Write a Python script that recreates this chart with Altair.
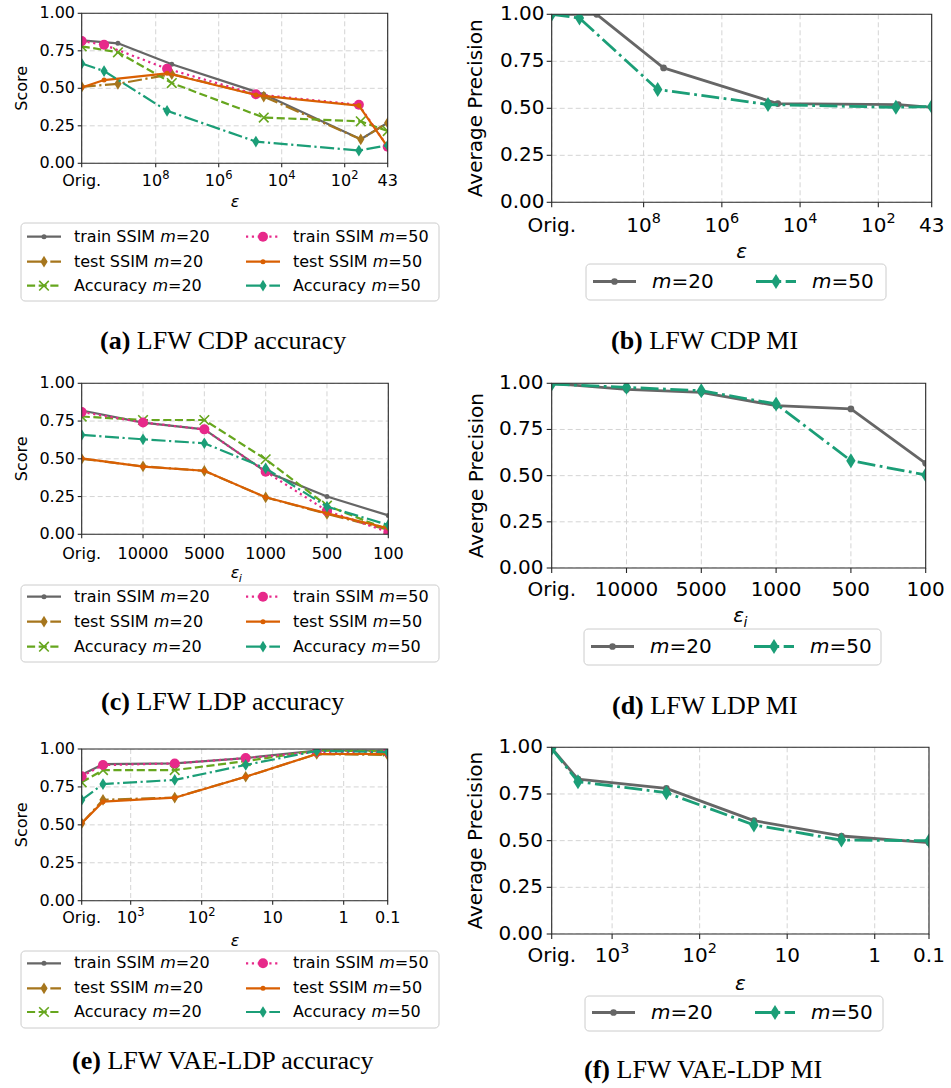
import altair as alt
import pandas as pd

FIG_W, FIG_H = 951, 1088
SANS = "DejaVu Sans"
SERIF = "Liberation Serif"

# ---------------- values ----------------
score_ticks = [0.0, 0.25, 0.5, 0.75, 1.0]
score_tick_labels = ["0.00", "0.25", "0.50", "0.75", "1.00"]

# CDP: x positions are log10(eps); the left-most slot is the original model
cdp_ticks = [10.35, 8.0, 6.0, 4.0, 2.0, 0.635]
cdp_tick_labels = ["Orig.", "10^8", "10^6", "10^4", "10^2", "43"]
cdp_pos_m20 = [10.35, 9.2, 7.49, 4.57, 1.49, 0.635]
cdp_pos_m50 = [10.35, 9.64, 7.64, 4.82, 1.55, 0.635]
cdp_train_m20 = [0.82, 0.80, 0.66, 0.46, 0.16, 0.27]
cdp_test_m20 = [0.51, 0.53, 0.595, 0.445, 0.16, 0.27]
cdp_acc_m20 = [0.78, 0.74, 0.535, 0.305, 0.28, 0.215]
cdp_train_m50 = [0.815, 0.79, 0.63, 0.46, 0.39, 0.11]
cdp_test_m50 = [0.505, 0.555, 0.60, 0.455, 0.385, 0.11]
cdp_acc_m50 = [0.665, 0.615, 0.35, 0.145, 0.085, 0.12]
cdp_ap_m20 = [1.0, 1.0, 0.715, 0.525, 0.52, 0.505]
cdp_ap_m50 = [1.0, 0.98, 0.60, 0.52, 0.505, 0.51]

# LDP: per-instance eps_i, evenly spaced slots
ldp_ticks = [0, 1, 2, 3, 4, 5]
ldp_tick_labels = ["Orig.", "10000", "5000", "1000", "500", "100"]
ldp_pos = [0, 1, 2, 3, 4, 5]
ldp_train_m20 = [0.82, 0.74, 0.695, 0.415, 0.25, 0.125]
ldp_test_m20 = [0.50, 0.45, 0.42, 0.245, 0.135, 0.03]
ldp_acc_m20 = [0.78, 0.757, 0.757, 0.497, 0.19, 0.03]
ldp_train_m50 = [0.81, 0.74, 0.695, 0.415, 0.155, 0.015]
ldp_test_m50 = [0.503, 0.448, 0.421, 0.245, 0.139, 0.04]
ldp_acc_m50 = [0.658, 0.629, 0.603, 0.437, 0.183, 0.062]
ldp_ap_m20 = [1.0, 0.967, 0.951, 0.879, 0.861, 0.567]
ldp_ap_m50 = [0.996, 0.978, 0.96, 0.888, 0.581, 0.504]

# VAE-LDP: x positions are log10(eps)
vae_ticks = [3.69, 3.0, 2.0, 1.0, 0.0, -0.62]
vae_tick_labels = ["Orig.", "10^3", "10^2", "10", "1", "0.1"]
vae_pos = [3.69, 3.39, 2.38, 1.38, 0.38, -0.62]
vae_train_m20 = [0.83, 0.90, 0.905, 0.94, 0.99, 0.99]
vae_test_m20 = [0.51, 0.665, 0.68, 0.817, 0.967, 0.96]
vae_acc_m20 = [0.78, 0.861, 0.861, 0.92, 0.99, 0.985]
vae_train_m50 = [0.82, 0.894, 0.905, 0.94, 0.98, 0.98]
vae_test_m50 = [0.51, 0.653, 0.679, 0.817, 0.967, 0.967]
vae_acc_m50 = [0.664, 0.769, 0.796, 0.895, 0.987, 0.98]
vae_ap_m20 = [0.995, 0.829, 0.78, 0.607, 0.525, 0.489]
vae_ap_m50 = [0.993, 0.816, 0.757, 0.584, 0.503, 0.50]

# ---------------- styles ----------------
SERIES_STYLE = {
    "train SSIM m=20": ("#666666", "solid", "dot"),
    "test SSIM m=20": ("#a6761d", "dashdot", "thin_diamond"),
    "Accuracy m=20": ("#66a61e", "dashed", "x"),
    "train SSIM m=50": ("#e7298a", "dotted", "circle"),
    "test SSIM m=50": ("#d95f02", "solid", "dot"),
    "Accuracy m=50": ("#1b9e77", "dashdot", "thin_diamond"),
    "m=20": ("#666666", "solid", "dot"),
    "m=50": ("#1b9e77", "dashdot", "thin_diamond"),
}
DASH_UNITS = {"solid": None, "dashed": [3.7, 1.6], "dashdot": [6.4, 1.6, 1.0, 1.6], "dotted": [1.0, 1.65]}
STY = {
    "small": dict(fs=16, lw=2.2, dot=25, circle=100, diamond=137, cross=92, cross_w=1.6, tick=4),
    "large": dict(fs=20, lw=2.8, dot=45, circle=150, diamond=225, cross=144, cross_w=2.0, tick=5),
}
THIN_DIAMOND = "M0,-1L0.62,0L0,1L-0.62,0Z"
X_PATH = "M-1,-1L1,1M-1,1L1,-1"
GRID = dict(color="#d4d4d4", strokeWidth=1, strokeDash=[5, 3])
AXC = "#262626"
DIGIT = 0.636   # DejaVu Sans digit advance, in em
SUP = 0.72      # exponent size relative to the label size

ONE = pd.DataFrame({"k": [0]})


def line_mark(base, color, dash, st):
    kw = dict(color=color, strokeWidth=st["lw"], strokeJoin="round")
    if DASH_UNITS[dash]:
        kw["strokeDash"] = [round(u * st["lw"], 2) for u in DASH_UNITS[dash]]
        kw["strokeCap"] = "butt"
    return base.mark_line(**kw)


def rule_mark(base, color, dash, st):
    kw = dict(color=color, strokeWidth=st["lw"])
    if DASH_UNITS[dash]:
        kw["strokeDash"] = [round(u * st["lw"], 2) for u in DASH_UNITS[dash]]
    return base.mark_rule(**kw)


def marker_mark(base, marker, color, st):
    if marker == "dot":
        return base.mark_point(shape="circle", filled=True, size=st["dot"], color=color, opacity=1, strokeWidth=0)
    if marker == "circle":
        return base.mark_point(shape="circle", filled=True, size=st["circle"], color=color, opacity=1, strokeWidth=0)
    if marker == "thin_diamond":
        return base.mark_point(shape=THIN_DIAMOND, filled=True, size=st["diamond"], color=color, opacity=1, strokeWidth=0)
    return base.mark_point(shape=X_PATH, filled=False, size=st["cross"], color=color, opacity=1,
                           strokeWidth=st["cross_w"])


def label(txt, x, y, fs, align="center", baseline="alphabetic", italic=False, angle=0, font=SANS, bold=False):
    kw = dict(font=font, fontSize=fs, align=align, baseline=baseline, color="black")
    if italic:
        kw["fontStyle"] = "italic"
    if bold:
        kw["fontWeight"] = "bold"
    if angle:
        kw["angle"] = angle
    return alt.Chart(ONE).mark_text(**kw).encode(x=alt.value(x), y=alt.value(y), text=alt.value(txt))


def panel(p):
    st = STY[p["size"]]
    fs = st["fs"]
    x0, x1, y0, y1 = p["x0"], p["x1"], p["y0"], p["y1"]
    xs = alt.Scale(domain=p["xdom"], range=[x0, x1], nice=False, zero=False)
    ys = alt.Scale(domain=[0, 1], range=[y1, y0], nice=False, zero=False)

    def X(f):
        return alt.X(f, type="quantitative", scale=xs, axis=None)

    def Y(f):
        return alt.Y(f, type="quantitative", scale=ys, axis=None)

    xt = pd.DataFrame({"v": p["xticks"], "label": p["xlabels"]})
    xt["base"] = xt["label"].str.split("^").str[0]
    xt["exp"] = xt["label"].apply(lambda s: s.split("^")[1] if "^" in s else "")
    yt = pd.DataFrame({"v": score_ticks, "label": score_tick_labels})
    out = [
        alt.Chart(xt).mark_rule(**GRID).encode(x=X("v"), y=alt.value(y0), y2=alt.value(y1)),
        alt.Chart(yt).mark_rule(**GRID).encode(y=Y("v"), x=alt.value(x0), x2=alt.value(x1)),
    ]
    for name, pos, vals in p["series"]:
        color, dash, marker = SERIES_STYLE[name]
        base = alt.Chart(pd.DataFrame({"pos": pos, "val": vals})).encode(x=X("pos"), y=Y("val"))
        out.append(line_mark(base, color, dash, st))
        out.append(marker_mark(base, marker, color, st))

    # white margin around the frame trims markers sitting on the edges
    m = 10
    trim = pd.DataFrame({
        "a": [x0 - m, x1, x0 - m, x0 - m],
        "b": [x0, x1 + m, x1 + m, x1 + m],
        "c": [y0 - m, y0 - m, y0 - m, y1],
        "d": [y1 + m, y1 + m, y0, y1 + m],
    })
    out.append(alt.Chart(trim).mark_rect(color="white").encode(
        x=alt.X("a:Q", scale=None, axis=None), x2="b:Q",
        y=alt.Y("c:Q", scale=None, axis=None), y2="d:Q"))

    out.append(alt.Chart(ONE).mark_rect(fillOpacity=0, stroke=AXC, strokeWidth=1.1).encode(
        x=alt.value(x0), x2=alt.value(x1), y=alt.value(y0), y2=alt.value(y1)))
    out.append(alt.Chart(xt).mark_rule(color=AXC, strokeWidth=1.1).encode(
        x=X("v"), y=alt.value(y1), y2=alt.value(y1 + st["tick"])))
    out.append(alt.Chart(yt).mark_rule(color=AXC, strokeWidth=1.1).encode(
        y=Y("v"), x=alt.value(x0 - st["tick"]), x2=alt.value(x0)))

    # x tick labels; powers of ten get a raised, smaller exponent
    plain = xt[xt["exp"] == ""]
    powers = xt[xt["exp"] != ""]
    txt = dict(font=SANS, fontSize=fs, baseline="alphabetic", color="black")
    out.append(alt.Chart(plain).mark_text(align="center", **txt).encode(
        x=X("v"), y=alt.value(p["xlab_y"]), text="base:N"))
    if len(powers):
        fe = SUP * fs
        total = 2 * DIGIT * fs + DIGIT * fe
        split = -total / 2 + 2 * DIGIT * fs
        out.append(alt.Chart(powers).mark_text(align="right", dx=split, **txt).encode(
            x=X("v"), y=alt.value(p["xlab_y"]), text="base:N"))
        out.append(alt.Chart(powers).mark_text(align="left", dx=split, dy=-0.45 * fs, font=SANS, fontSize=fe,
                                               baseline="alphabetic", color="black").encode(
            x=X("v"), y=alt.value(p["xlab_y"]), text="exp:N"))
    out.append(alt.Chart(yt).mark_text(font=SANS, fontSize=fs, align="right", baseline="middle",
                                       color="black").encode(y=Y("v"), x=alt.value(p["ylab_x"]), text="label:N"))
    out.append(label(p["ytitle"], p["ytitle_x"], (y0 + y1) / 2, fs, angle=270))
    if p.get("xsub"):
        out.append(label("ε", p["xtitle_x"], p["xtitle_y"], fs, align="right", italic=True))
        out.append(label("i", p["xtitle_x"] - 0.5, p["xtitle_y"] + 0.24 * fs, 0.7 * fs,
                         align="left", italic=True))
    else:
        out.append(label("ε", p["xtitle_x"], p["xtitle_y"], fs, italic=True))
    return out


def acc_series(pos20, pos50, tr20, te20, ac20, tr50, te50, ac50):
    return [("train SSIM m=20", pos20, tr20), ("test SSIM m=20", pos20, te20), ("Accuracy m=20", pos20, ac20),
            ("train SSIM m=50", pos50, tr50), ("test SSIM m=50", pos50, te50), ("Accuracy m=50", pos50, ac50)]


PANELS = [
    dict(size="small", x0=81.7, x1=387.7, y0=13.3, y1=163.3, xdom=[10.35, 0.635],
         xticks=cdp_ticks, xlabels=cdp_tick_labels, xlab_y=185.7, ylab_x=75,
         ytitle="Score", ytitle_x=27.3, xtitle_x=235, xtitle_y=207,
         series=acc_series(cdp_pos_m20, cdp_pos_m50, cdp_train_m20, cdp_test_m20, cdp_acc_m20,
                           cdp_train_m50, cdp_test_m50, cdp_acc_m50)),
    dict(size="large", x0=551.7, x1=931.7, y0=14.3, y1=202.3, xdom=[10.35, 0.635],
         xticks=cdp_ticks, xlabels=cdp_tick_labels, xlab_y=231.7, ylab_x=544.5,
         ytitle="Average Precision", ytitle_x=482, xtitle_x=741.7, xtitle_y=258.3,
         series=[("m=20", cdp_pos_m20, cdp_ap_m20), ("m=50", cdp_pos_m50, cdp_ap_m50)]),
    dict(size="small", x0=81.7, x1=388.3, y0=383.3, y1=534.3, xdom=[0, 5],
         xticks=ldp_ticks, xlabels=ldp_tick_labels, xlab_y=559, ylab_x=75,
         ytitle="Score", ytitle_x=27.3, xtitle_x=239.3, xtitle_y=578.3, xsub=True,
         series=acc_series(ldp_pos, ldp_pos, ldp_train_m20, ldp_test_m20, ldp_acc_m20,
                           ldp_train_m50, ldp_test_m50, ldp_acc_m50)),
    dict(size="large", x0=551.7, x1=925.7, y0=383.3, y1=568, xdom=[0, 5],
         xticks=ldp_ticks, xlabels=ldp_tick_labels, xlab_y=596, ylab_x=543.5,
         ytitle="Averge Precision", ytitle_x=482.5, xtitle_x=744, xtitle_y=622, xsub=True,
         series=[("m=20", ldp_pos, ldp_ap_m20), ("m=50", ldp_pos, ldp_ap_m50)]),
    dict(size="small", x0=81.7, x1=387.7, y0=749, y1=900.7, xdom=[3.69, -0.62],
         xticks=vae_ticks, xlabels=vae_tick_labels, xlab_y=923.3, ylab_x=75,
         ytitle="Score", ytitle_x=27.3, xtitle_x=235, xtitle_y=945.5,
         series=acc_series(vae_pos, vae_pos, vae_train_m20, vae_test_m20, vae_acc_m20,
                           vae_train_m50, vae_test_m50, vae_acc_m50)),
    dict(size="large", x0=551.7, x1=929, y0=747.3, y1=934, xdom=[3.69, -0.62],
         xticks=vae_ticks, xlabels=vae_tick_labels, xlab_y=962.3, ylab_x=543,
         ytitle="Average Precision", ytitle_x=482, xtitle_x=740.3, xtitle_y=990,
         series=[("m=20", vae_pos, vae_ap_m20), ("m=50", vae_pos, vae_ap_m50)]),
]

layers = []
for p in PANELS:
    layers += panel(p)

# ---------------- legends ----------------
WIDTHS = {"train SSIM ": 5.392, "test SSIM ": 4.984, "Accuracy ": 4.902}
M_WIDTH = 0.974
plain_rows = {"small": [], "large": []}
ital_rows = {"small": [], "large": []}


def legend_box(x0, y0, x1, y1):
    return alt.Chart(ONE).mark_rect(fill="white", fillOpacity=0.8, stroke="#cccccc", strokeWidth=1,
                                    cornerRadius=4).encode(
        x=alt.value(x0), x2=alt.value(x1), y=alt.value(y0), y2=alt.value(y1))


def legend_entry(name, lx0, lx1, ly, tx, size):
    st = STY[size]
    color, dash, marker = SERIES_STYLE[name]
    out = [
        rule_mark(alt.Chart(ONE), color, dash, st).encode(x=alt.value(lx0), x2=alt.value(lx1), y=alt.value(ly)),
        marker_mark(alt.Chart(ONE), marker, color, st).encode(x=alt.value((lx0 + lx1) / 2), y=alt.value(ly)),
    ]
    fs = st["fs"]
    prefix, rest = name.rsplit("m", 1)
    x = tx
    if prefix:
        plain_rows[size].append({"x": x, "y": ly, "t": prefix})
        x += WIDTHS[prefix] * fs
    ital_rows[size].append({"x": x, "y": ly, "t": "m"})
    plain_rows[size].append({"x": x + M_WIDTH * fs, "y": ly, "t": rest})
    return out


LEFT_LEGENDS = [
    ((21, 223, 439, 301), [236.7, 261.7, 285.7]),
    ((21, 585, 439, 662), [596.7, 621.7, 646.7]),
    ((21, 951, 439, 1028), [963.3, 988.3, 1012.0]),
]
COL_A = ["train SSIM m=20", "test SSIM m=20", "Accuracy m=20"]
COL_B = ["train SSIM m=50", "test SSIM m=50", "Accuracy m=50"]
for (bx0, by0, bx1, by1), rows in LEFT_LEGENDS:
    layers.append(legend_box(bx0, by0, bx1, by1))
    for name, ry in zip(COL_A, rows):
        layers += legend_entry(name, bx0 + 6, bx0 + 40, ry, bx0 + 53, "small")
    for name, ry in zip(COL_B, rows):
        layers += legend_entry(name, bx0 + 225, bx0 + 259, ry, bx0 + 272, "small")

RIGHT_LEGENDS = [
    ((586, 264, 886, 300), 281.5),
    ((584, 629, 881, 665), 646.5),
    ((585, 996, 883, 1031), 1012.5),
]
for (bx0, by0, bx1, by1), ry in RIGHT_LEGENDS:
    layers.append(legend_box(bx0, by0, bx1, by1))
    layers += legend_entry("m=20", bx0 + 7, bx0 + 50, ry, bx0 + 66, "large")
    layers += legend_entry("m=50", bx0 + 170, bx0 + 210, ry, bx0 + 226, "large")

for size in ("small", "large"):
    fs = STY[size]["fs"]
    for rows, italic in ((plain_rows[size], False), (ital_rows[size], True)):
        kw = dict(font=SANS, fontSize=fs, align="left", baseline="middle", color="black")
        if italic:
            kw["fontStyle"] = "italic"
        layers.append(alt.Chart(pd.DataFrame(rows)).mark_text(**kw).encode(
            x=alt.X("x:Q", scale=None, axis=None), y=alt.Y("y:Q", scale=None, axis=None), text="t:N"))

# ---------------- captions ----------------
captions = pd.DataFrame({
    "tag": ["(a)", "(b)", "(c)", "(d)", "(e)", "(f)"],
    "text": ["LFW CDP accuracy", "LFW CDP MI", "LFW LDP accuracy", "LFW LDP MI",
             "LFW VAE-LDP accuracy", "LFW VAE-LDP MI"],
    "x": [100, 611, 101, 612, 72, 584],
    "x_text": [136.8, 649.3, 136.4, 650.3, 107.4, 616.5],
    "y": [348.5, 348.5, 710, 713.5, 1069, 1078],
})
layers.append(alt.Chart(captions).mark_text(font=SERIF, fontSize=26, fontWeight="bold", align="left",
                                            baseline="alphabetic", color="black").encode(
    x=alt.X("x:Q", scale=None, axis=None), y=alt.Y("y:Q", scale=None, axis=None), text="tag:N"))
layers.append(alt.Chart(captions).mark_text(font=SERIF, fontSize=26, align="left",
                                            baseline="alphabetic", color="black").encode(
    x=alt.X("x_text:Q", scale=None, axis=None), y=alt.Y("y:Q", scale=None, axis=None), text="text:N"))

chart = (
    alt.layer(*layers)
    .resolve_scale(x="independent", y="independent")
    .properties(width=FIG_W, height=FIG_H, autosize=alt.AutoSizeParams(type="none"), padding=0,
                background="white")
    .configure_view(stroke=None)
)

chart.save("out.html", embed_options={"renderer": "svg", "actions": False})
